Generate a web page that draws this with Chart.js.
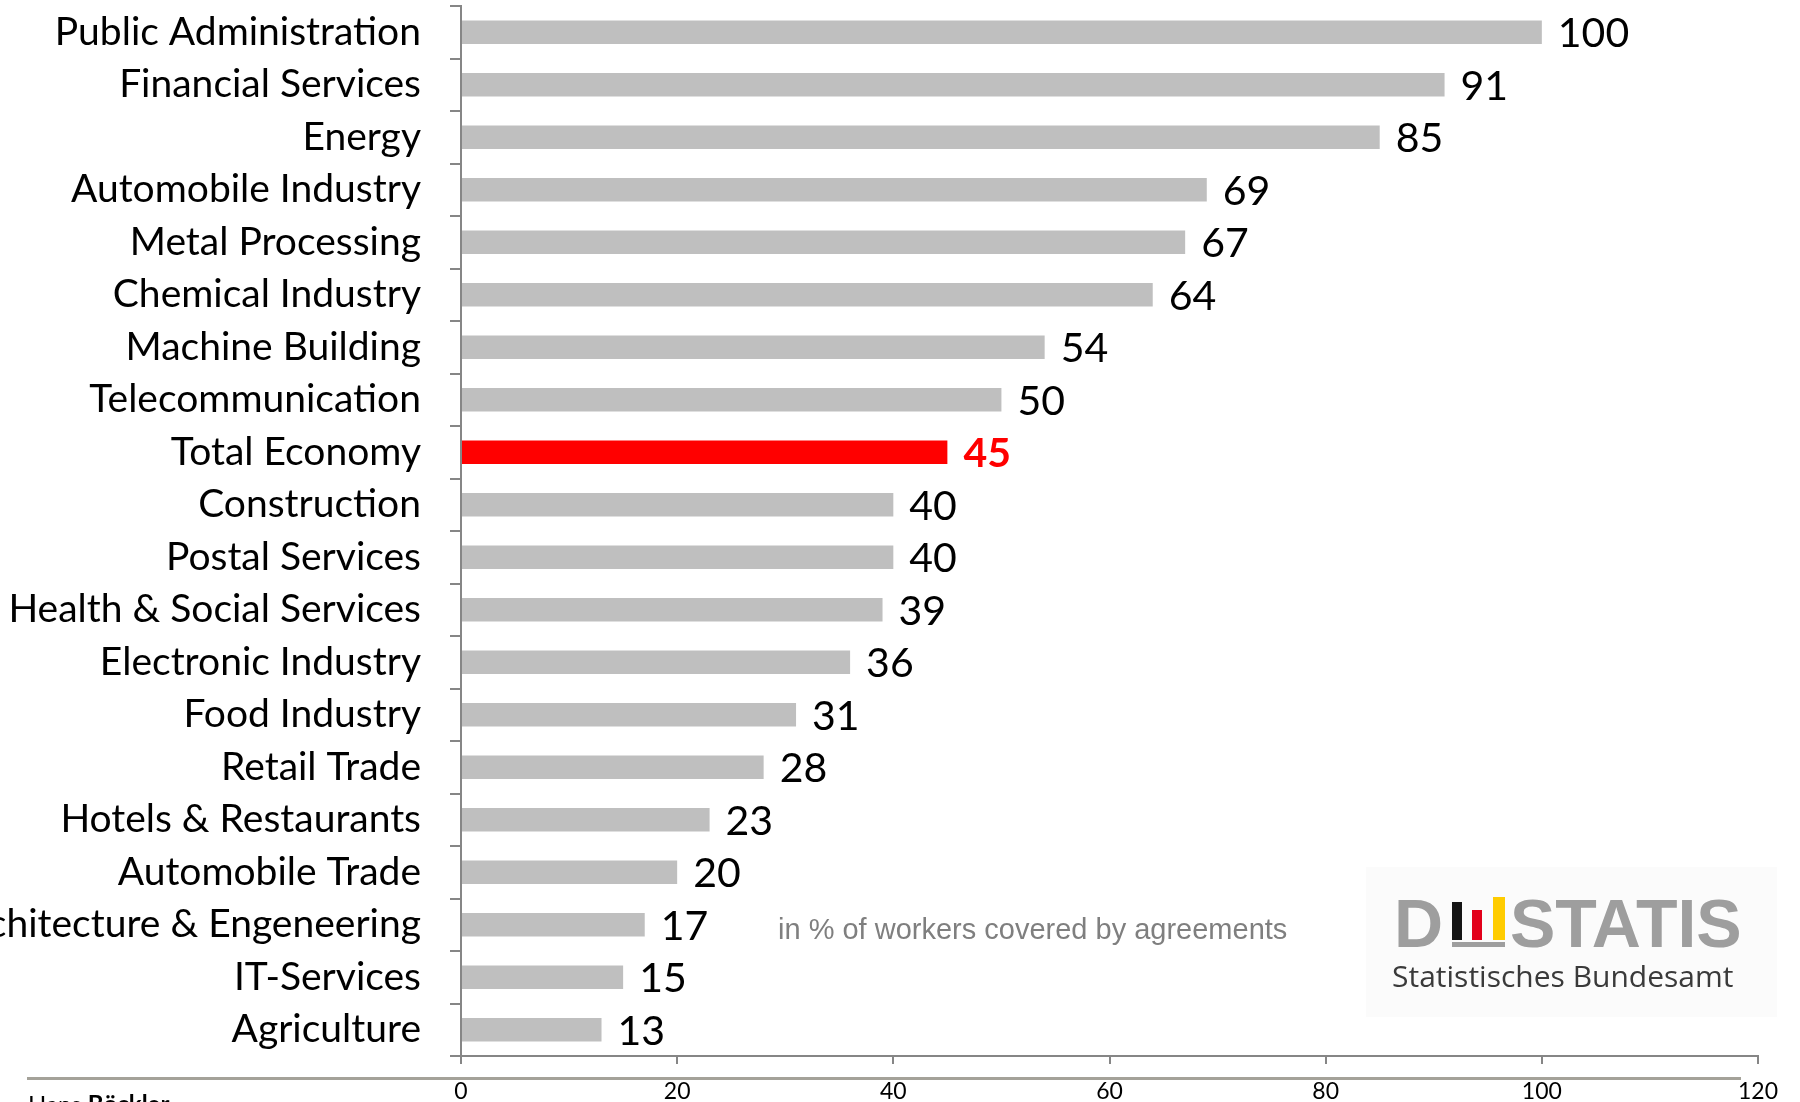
<!DOCTYPE html>
<html>
<head>
<meta charset="utf-8">
<script src="https://cdn.jsdelivr.net/npm/chart.js@4/dist/chart.umd.min.js"></script>
<style>
  html, body { margin: 0; padding: 0; background: #fff; }
  #wrap { width: 1800px; height: 1102px; }
</style>
</head>
<body>
<div id="wrap"><canvas id="grafica" width="1800" height="1102"></canvas></div>
<script>
// Sectors and share of workers covered by collective agreements (%)
const sectors = [
  'Public Administration', 'Financial Services', 'Energy', 'Automobile Industry',
  'Metal Processing', 'Chemical Industry', 'Machine Building', 'Telecommunication',
  'Total Economy', 'Construction', 'Postal Services', 'Health & Social Services',
  'Electronic Industry', 'Food Industry', 'Retail Trade', 'Hotels & Restaurants',
  'Automobile Trade', 'Architecture & Engeneering', 'IT-Services', 'Agriculture'
];
const coverage = [100, 91, 85, 69, 67, 64, 54, 50, 45, 40, 40, 39, 36, 31, 28, 23, 20, 17, 15, 13];
const highlighted = 'Total Economy';
const xTicks = [0, 20, 40, 60, 80, 100, 120];

const note = 'in % of workers covered by agreements';
const logoWord = ['D', 'STATIS'];
const logoSub = 'Statistisches Bundesamt';
const footer = ['Hans ', 'Böckler'];

const barColors = sectors.map(s => s === highlighted ? '#ff0000' : '#bfbfbf');

// numbers at the end of every bar
const valueLabels = {
  id: 'valueLabels',
  afterDatasetsDraw(chart) {
    const ctx = chart.ctx;
    const meta = chart.getDatasetMeta(0);
    ctx.save();
    ctx.textBaseline = 'middle';
    ctx.textAlign = 'left';
    meta.data.forEach((bar, i) => {
      const hot = sectors[i] === highlighted;
      ctx.font = (hot ? 'bold ' : '') + '41px Lato';
      ctx.fillStyle = hot ? '#ff0000' : '#000000';
      ctx.fillText(String(coverage[i]), bar.x + 16, bar.y + 2);
    });
    ctx.restore();
  }
};

// unit note, Destatis logo, footer rule and credit
const extras = {
  id: 'extras',
  afterDraw(chart) {
    const ctx = chart.ctx;
    ctx.save();

    ctx.font = '29px "Liberation Sans"';
    ctx.fillStyle = '#7f7f7f';
    ctx.textBaseline = 'middle';
    ctx.textAlign = 'left';
    ctx.fillText(note, 778, 931);

    // logo box
    ctx.fillStyle = '#fbfbfb';
    ctx.fillRect(1366, 867, 411, 150);
    ctx.fillStyle = '#9e9e9e';
    ctx.font = 'bold 68px "Liberation Sans"';
    ctx.textBaseline = 'alphabetic';
    ctx.fillText(logoWord[0], 1394, 947, 51);
    ctx.fillText(logoWord[1], 1510, 947, 236);
    ctx.fillStyle = '#151515';
    ctx.fillRect(1452, 902, 10, 38);
    ctx.fillStyle = '#e2001a';
    ctx.fillRect(1472, 910, 10, 30);
    ctx.fillStyle = '#ffcc00';
    ctx.fillRect(1493, 897, 12, 43);
    ctx.fillStyle = '#9e9e9e';
    ctx.fillRect(1452, 942, 53, 5);
    ctx.fillStyle = '#3a3a3a';
    ctx.font = '30px "Open Sans"';
    ctx.fillText(logoSub, 1392, 987, 355);

    // rule under the axis
    ctx.fillStyle = '#a4a299';
    ctx.fillRect(27, 1077, 1714, 3);

    // credit line, mostly below the page edge
    ctx.fillStyle = '#000';
    ctx.font = '24px Lato';
    ctx.fillText(footer[0], 28, 1113);
    const w = ctx.measureText(footer[0]).width;
    ctx.font = 'bold 24px Lato';
    ctx.fillText(footer[1], 28 + w, 1113);
    ctx.restore();
  }
};

new Chart(document.getElementById('grafica').getContext('2d'), {
  type: 'bar',
  data: {
    labels: sectors,
    datasets: [{
      data: coverage,
      backgroundColor: barColors,
      borderWidth: 0,
      barPercentage: 0.45,
      categoryPercentage: 1
    }]
  },
  options: {
    indexAxis: 'y',
    responsive: false,
    animation: false,
    devicePixelRatio: 1,
    layout: { padding: { top: 6, right: 42, bottom: 0, left: 0 } },
    plugins: {
      legend: { display: false },
      tooltip: { enabled: false },
      title: { display: false }
    },
    scales: {
      x: {
        min: 0,
        max: 120,
        afterFit(s) { s.height = 46; s.paddingLeft = 0; s.paddingRight = 0; },
        afterBuildTicks(s) { s.ticks = xTicks.map(v => ({ value: v })); },
        border: { display: true, color: '#868686', width: 2 },
        grid: { drawOnChartArea: false, drawTicks: true, tickLength: 8, color: '#868686', lineWidth: 2 },
        ticks: { font: { family: 'Lato', size: 23 }, color: '#000', padding: 14, maxRotation: 0 }
      },
      y: {
        afterFit(s) { s.width = 461; s.paddingTop = 0; s.paddingBottom = 0; },
        border: { display: true, color: '#868686', width: 2 },
        grid: { offset: true, drawOnChartArea: false, drawTicks: true, tickLength: 11, color: '#868686', lineWidth: 2 },
        ticks: { font: { family: 'Lato', size: 39 }, color: '#000', padding: 29, autoSkip: false }
      }
    }
  },
  plugins: [valueLabels, extras]
});
</script>
</body>
</html>
